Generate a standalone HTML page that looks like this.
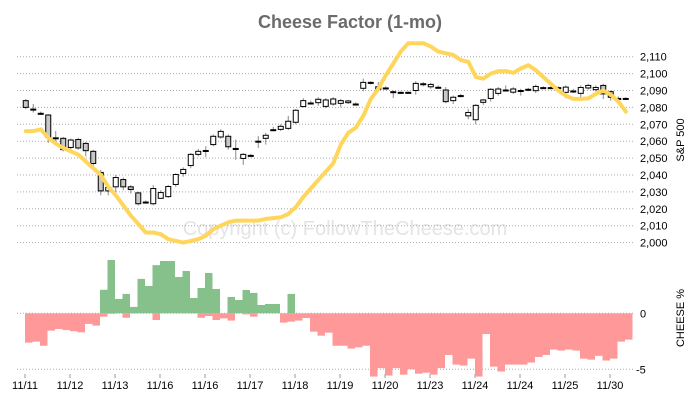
<!DOCTYPE html>
<html><head><meta charset="utf-8"><style>
body{margin:0;background:#fff;}
svg{display:block;font-family:"Liberation Sans",Arial,sans-serif;}
</style></head><body>
<svg id="c" width="700" height="400" viewBox="0 0 700 400">
<text x="350" y="28" text-anchor="middle" font-size="18" font-weight="bold" fill="#6b6b6b">Cheese Factor (1-mo)</text>
<text x="345" y="235" text-anchor="middle" font-size="20" fill="#e4e4e4">Copyright (c) FollowTheCheese.com</text>
<text transform="translate(684,140) rotate(-90)" text-anchor="middle" font-size="11" fill="#000">S&amp;P 500</text>
<text transform="translate(684,318) rotate(-90)" text-anchor="middle" font-size="11" fill="#000">CHEESE %</text>
<g id="grid"></g><g id="bars"></g><g id="candles"></g><g id="line"></g><g id="axes"></g>
</svg>
<script>
const xLabels=["11/11","11/12","11/13","11/16","11/16","11/17","11/18","11/19","11/20","11/23","11/24","11/24","11/25","11/30"];
const priceTicks=[2000,2010,2020,2030,2040,2050,2060,2070,2080,2090,2100,2110];
const cheeseTicks=[0,-5];
const openV=[2084,2079,2076.5,2075.5,2062,2061.7,2056.3,2061,2058.7,2054,2041.5,2030.6,2033,2037.3,2033,2029.4,2024,2023,2026.2,2027.2,2034.4,2040.9,2045.6,2052.2,2054.5,2058,2062.5,2062.9,2055.7,2049.8,2051.6,2060,2061.7,2066.8,2067,2067.6,2071.2,2080.5,2082.6,2082.8,2080.6,2082,2082.4,2082.8,2082,2091.3,2094.8,2090.7,2091.5,2089.3,2088.9,2088.9,2090,2094,2092.2,2091.9,2090.3,2084,2087,2075,2072.7,2083,2085.3,2088.3,2090.3,2089,2090,2090.7,2089.9,2091.7,2091.7,2091.7,2088.9,2089.7,2088.3,2091.5,2090.5,2093,2089.3,2085.3,2085.3];
const closeV=[2080,2078.7,2076.5,2062.3,2062,2055,2060.7,2056,2054.4,2046.8,2030.6,2032.6,2038.5,2033,2031.4,2023,2024,2032,2029.6,2033.2,2040.3,2043.3,2052.2,2054,2054.5,2062.9,2065.8,2056.7,2055.7,2052.2,2051.6,2060,2063.5,2066.8,2068.8,2071.8,2078.3,2084,2082.6,2084.8,2084.4,2085,2084,2083.8,2082,2094.8,2094.8,2092.2,2091.5,2089.3,2088.9,2088.9,2094.2,2094,2093.6,2091.9,2083.4,2086,2087,2077,2081.2,2084.4,2090.7,2090.9,2090.3,2090.9,2090,2090.7,2092.4,2091.7,2091.7,2091.7,2092,2089.7,2091.8,2093,2091.8,2088,2086,2085.3,2085.3];
const highV=[2085,2082,2077.5,2076,2066,2062.5,2061.5,2062,2059.5,2055,2043,2034,2040,2038.5,2034,2030,2025,2034,2031,2034,2041,2044.5,2053,2055.5,2057,2064,2067,2064,2061,2053,2052.5,2063,2065,2068.5,2070,2075,2079,2085.5,2084,2086,2085.5,2086,2085,2084.5,2083,2097,2095.5,2095,2092.5,2090,2089.5,2089.5,2095.5,2095,2094.5,2093,2092,2087,2088,2079,2082,2085,2091.5,2092,2093,2092,2091,2091.5,2093.5,2092.5,2092.5,2092.5,2093,2091,2093,2094,2093,2094,2090,2086.5,2086];
const lowV=[2079,2077,2075.5,2059,2059,2054,2055,2055,2051,2045,2028,2028,2030,2031,2029,2022,2023,2022,2026,2026.5,2033,2039,2044,2051,2050.5,2057,2061.5,2055,2049,2046,2050.5,2056,2058,2066,2066,2066.5,2070,2080,2082,2081,2079.5,2081,2080,2082,2081.5,2089.5,2093.5,2089,2090.5,2085.5,2088,2088,2087.5,2092.5,2091,2091,2082.5,2082,2086,2073,2070,2081.5,2083.5,2087,2089.5,2088,2087,2089.5,2088.5,2091,2091,2091,2085.5,2088.5,2086,2090.5,2089.5,2085,2084,2083,2084.5];
const trendV=[2066,2066,2067,2062,2058.5,2056,2054,2052,2048,2044,2040,2033,2028,2022,2016,2011,2006,2006,2005,2002,2001,2000,2001,2002,2004,2008,2010,2012,2013,2013,2013,2013,2014,2014.5,2015,2017,2021,2027,2032,2037,2042,2047,2058,2065,2068,2075,2085,2091,2099,2106,2113,2118,2118,2118,2116,2113,2112,2111,2108,2107,2098,2097,2100,2101.5,2101.5,2100.5,2103,2105,2102,2098,2094,2090,2087,2085,2085,2085.3,2088,2090,2087.5,2083.5,2077.5];
const cheesePos=[0,0,0,0,0,0,0,0,0,0,2.1,4.76,1.28,1.73,0.57,3.07,2.44,4.3,4.67,4.67,3.24,3.78,1.37,2.26,3.6,2.17,0,1.46,1.19,2.08,1.82,0.74,0.83,0.83,0,1.73,0,0,0,0,0,0,0,0,0,0,0,0,0,0,0,0,0,0,0,0,0,0,0,0,0,0,0,0,0,0,0,0,0,0,0,0,0,0,0,0,0,0,0,0,0];
const cheeseNeg=[-2.62,-2.53,-2.9,-1.55,-1.4,-1.5,-1.6,-1.7,-0.95,-1.1,-0.3,-0.05,0,-0.4,0,0,0,-0.6,0,0,0,0,0,-0.4,-0.24,-0.6,-0.45,-0.65,0,-0.1,-0.3,0,0,0,-0.83,-0.74,-0.65,-0.42,-1.64,-2.0,-1.73,-2.9,-2.9,-3.15,-3.04,-2.9,-5.65,-4.9,-5.56,-4.9,-5.48,-5.0,-5.39,-5.3,-5.48,-4.9,-3.72,-4.58,-4.67,-4.05,-5.65,-1.85,-4.76,-5.2,-4.58,-4.58,-4.58,-4.4,-3.9,-3.72,-3.24,-3.33,-3.24,-3.33,-4.05,-4.14,-3.8,-4.22,-4.05,-2.53,-2.35];

const NS="http://www.w3.org/2000/svg";
const X0=22,BW=7.5;
function xL(i){return X0+i*BW;}
function xC(i){return X0+i*BW+BW/2;}
function yP(p){return 242.6-(p-2000)*1.69;}
function yC(v){return 313.3-v*11.2;}
function mk(tag,attrs,parent){const e=document.createElementNS(NS,tag);for(const k in attrs)e.setAttribute(k,attrs[k]);document.getElementById(parent).appendChild(e);return e;}

priceTicks.forEach(t=>{
  const y=yP(t);
  const l=mk('line',{x1:17,x2:633,y1:y,y2:y,stroke:'#aaa','stroke-dasharray':'1,2'},'grid');
  
  
  const tx=mk('text',{x:640,y:y+4,'font-size':11,fill:'#000'},'axes');
  tx.textContent=t.toLocaleString('en-US');
  
  
});
cheeseTicks.forEach(t=>{
  const y=yC(t);
  const l=mk('line',{x1:17,x2:633,y1:y,y2:y,stroke:'#aaa','stroke-dasharray':'1,2'},'grid');
  
  
  const tx=mk('text',{x:t<0?636:640,y:y+4,'font-size':11,fill:'#000'},'axes');
  tx.textContent=String(t);
  
  
});
xLabels.forEach((lab,k)=>{
  const x=X0+3+k*6*BW;
  const tk=mk('line',{x1:x,x2:x,y1:374,y2:378,stroke:'#bbb','stroke-width':1.5},'axes');
  
  
  const tx=mk('text',{x:x,y:389,'font-size':11,fill:'#000','text-anchor':'middle'},'axes');
  tx.textContent=lab;
  
  
});
cheesePos.forEach((v,i)=>{
  if(v>0){const r=mk('rect',{x:xL(i)+3,y:yC(v),width:BW,height:yC(0)-yC(v),fill:'#86c08b'},'bars');
  
  }
});
cheeseNeg.forEach((v,i)=>{
  if(v<0){const r=mk('rect',{x:xL(i)+3,y:yC(0),width:BW,height:yC(v)-yC(0),fill:'#ff9999'},'bars');
  
  }
});
openV.forEach((o,i)=>{
  const c=closeV[i],x=xC(i);
  const w=mk('line',{x1:x,x2:x,y1:yP(highV[i]),y2:yP(lowV[i]),stroke:'#888'},'candles');
  
  
  const top=Math.max(o,c),bot=Math.min(o,c);
  const h=Math.max(yP(bot)-yP(top),1);
  const b=mk('rect',{x:x-2.5,y:yP(top),width:5,height:h,fill:c<o?'#c8c8c8':'#fff',stroke:'#000','stroke-width':1},'candles');
  
  
});
let d='';
trendV.forEach((v,i)=>{d+=(i?'L':'M')+xC(i).toFixed(1)+','+yP(v).toFixed(1);});
const p=mk('path',{d:d,fill:'none',stroke:'#ffd65c','stroke-width':4,'stroke-linejoin':'round','stroke-linecap':'round'},'line');


</script>
</body></html>
